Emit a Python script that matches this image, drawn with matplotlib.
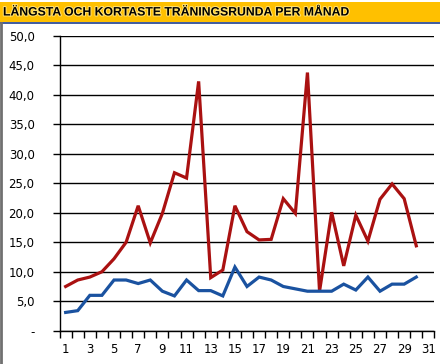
import matplotlib
matplotlib.use("Agg")
from matplotlib import pyplot as plt
from matplotlib import patheffects
import numpy as np

# Values (km per training run, per day)
days = list(range(1, 32))
longest = [7.5, 8.6, 9.1, 10.0, 12.2, 15.0, 21.2, 14.9, 19.9, 26.8,
           25.9, 42.3, 9.0, 10.3, 21.2, 16.8, 15.4, 15.5, 22.4, 19.9,
           43.8, 6.7, 20.1, 11.0, 19.6, 15.2, 22.3, 24.9, 22.4, 14.4]
shortest = [3.1, 3.4, 6.0, 6.0, 8.6, 8.6, 8.0, 8.6, 6.7, 5.9,
            8.6, 6.8, 6.8, 5.9, 10.8, 7.5, 9.1, 8.6, 7.5, 7.1,
            6.7, 6.7, 6.7, 7.9, 6.9, 9.1, 6.7, 7.9, 7.9, 9.1]
y_ticks = [0, 5, 10, 15, 20, 25, 30, 35, 40, 45, 50]
y_labels = ["-", "5,0", "10,0", "15,0", "20,0", "25,0", "30,0",
            "35,0", "40,0", "45,0", "50,0"]
title = "LÄNGSTA OCH KORTASTE TRÄNINGSRUNDA PER MÅNAD"

W, H = 440, 364
fig = plt.figure(figsize=(W / 100, H / 100), dpi=100)
fig.patch.set_facecolor("white")

# gold title band with blue underline
fig.patches.append(plt.Rectangle((0, 1 - 22 / H), 1, 20 / H, transform=fig.transFigure,
                                 facecolor="#FFC000", edgecolor="none", zorder=0))
fig.add_artist(plt.Line2D([0, 1], [1 - 22.5 / H, 1 - 22.5 / H], transform=fig.transFigure,
                          color="#1F3F8F", lw=1.2))
# gray left border
fig.add_artist(plt.Line2D([1 / W, 1 / W], [0, 1 - 23 / H], transform=fig.transFigure,
                          color="#707070", lw=2))
t = fig.text(3 / W, 1 - 12.5 / H, title, ha="left", va="center", fontsize=8.8,
             fontweight="bold", family="Liberation Sans", color="black")
t.set_path_effects([patheffects.withStroke(linewidth=1.5, foreground="#FFE070")])

x0, x1 = 59.6 / W, 434.4 / W
y0, y1 = 1 - 330.7 / H, 1 - 36 / H
ax = fig.add_axes([x0, y0, x1 - x0, y1 - y0])

x = np.arange(len(longest))
ax.plot(x, longest, color="#AA1111", lw=2.3, solid_joinstyle="miter", zorder=3)
ax.plot(x, shortest, color="#1A52A0", lw=2.3, solid_joinstyle="miter", zorder=3)

ax.set_xlim(-0.5, 30.5)
ax.set_ylim(0, 50)
ax.set_yticks(y_ticks)
ax.set_yticklabels(y_labels, fontsize=8.5, family="DejaVu Sans")
ax.yaxis.grid(True, color="black", lw=1)
ax.set_axisbelow(True)

ax.set_xticks(np.arange(-0.5, 31, 1))
ax.set_xticklabels([])
ax.set_xticks(np.arange(0, 31, 2), minor=True)
ax.set_xticklabels([str(d) for d in days[::2]], minor=True, fontsize=8.5)
ax.tick_params(axis="x", which="major", length=5, width=1, direction="out")
ax.tick_params(axis="x", which="minor", length=0, pad=9)
ax.tick_params(axis="y", length=5, width=1, direction="out", pad=13)
for lab in ax.get_yticklabels():
    lab.set_horizontalalignment("right")

for s in ["top", "right"]:
    ax.spines[s].set_visible(False)
ax.spines["left"].set_linewidth(1)
ax.spines["bottom"].set_linewidth(1)

plt.savefig("out.png", dpi=100)
